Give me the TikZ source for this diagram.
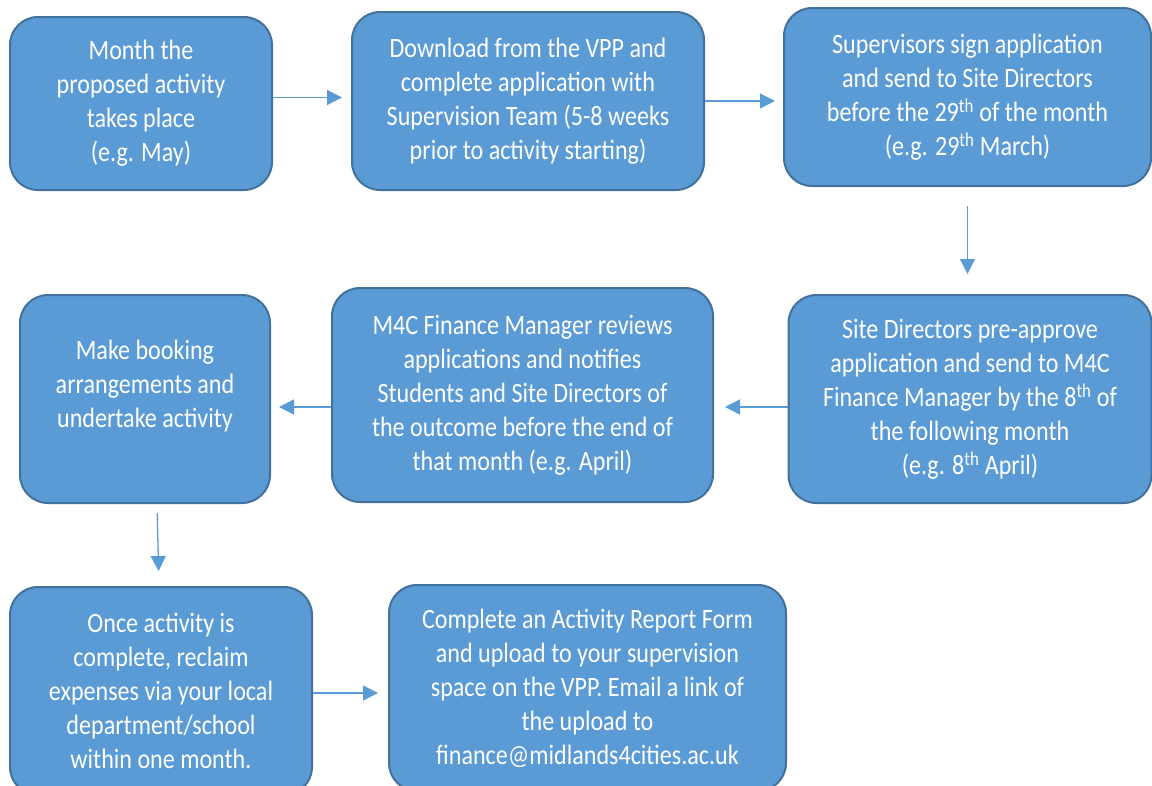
\documentclass[tikz,border=0pt]{standalone}
\usepackage{fontspec}
\setmainfont{Carlito}[FakeStretch=0.86]
\usepackage{xcolor}
\usepackage{tikz}
\usetikzlibrary{arrows.meta, positioning, calc}
\definecolor{boxblue}{HTML}{5B9BD5}
\definecolor{edgeblue}{HTML}{41719C}

\begin{document}
\begin{tikzpicture}[x=1pt, y=-1pt,
    stepbox/.style={draw=edgeblue, fill=boxblue, line width=2pt, rounded corners=28pt,
        text=white, align=center, inner sep=0pt, font=\fontsize{28}{34}\selectfont},
    flow/.style={draw=boxblue, line width=1.3pt, -{Triangle[length=15pt, width=15pt]}}]
    \useasboundingbox (0,0) rectangle (1152,785);
    % Top row
    \node[stepbox, minimum width=262pt, minimum height=173pt] (month) at (141,103.5)
        {Month the\\proposed activity\\takes place\\(e.g. May)};
    \node[stepbox, minimum width=352pt, minimum height=178pt] (download) at (528,101)
        {Download from the VPP and\\complete application with\\Supervision Team (5-8 weeks\\prior to activity starting)};
    \node[stepbox, minimum width=367pt, minimum height=178pt] (sign) at (967.5,97)
        {Supervisors sign application\\and send to Site Directors\\before the 29\textsuperscript{th} of the month\\(e.g. 29\textsuperscript{th} March)};
    % Middle row
    \node[stepbox, minimum width=363pt, minimum height=208pt] (approve) at (970,399)
        {Site Directors pre-approve\\application and send to M4C\\Finance Manager by the 8\textsuperscript{th} of\\the following month\\(e.g. 8\textsuperscript{th} April)};
    \node[stepbox, minimum width=381pt, minimum height=214pt] (review) at (522.5,395)
        {M4C Finance Manager reviews\\applications and notifies\\Students and Site Directors of\\the outcome before the end of\\that month (e.g. April)};
    \node[stepbox, minimum width=250pt, minimum height=208pt, text depth=31pt] (booking) at (145,399)
        {Make booking\\arrangements and\\undertake activity};
    % Bottom row
    \node[stepbox, minimum width=302pt, minimum height=208pt] (reclaim) at (161,691)
        {Once activity is\\complete, reclaim\\expenses via your local\\department/school\\within one month.};
    \node[stepbox, minimum width=397pt, minimum height=206pt] (report) at (587.5,688)
        {Complete an Activity Report Form\\and upload to your supervision\\space on the VPP. Email a link of\\the upload to\\finance@midlands4cities.ac.uk};
    % Arrows
    \draw[flow, shorten >=9pt] ($(month.east)+(0,-6)$) -- ($(month.east -| download.west)+(0,-6)$);
    \draw[flow, shorten >=8pt] (download.east) -- (download.east -| sign.west);
    \draw[flow, shorten <=19pt, shorten >=20pt] (sign.south) -- (sign.south |- approve.north);
    \draw[flow, shorten >=11pt] ($(approve.west)+(0,8)$) -- ($(approve.west -| review.east)+(0,8)$);
    \draw[flow, shorten >=8pt] ($(review.west)+(0,12)$) -- ($(review.west -| booking.east)+(0,12)$);
    \draw[flow, shorten <=9pt, shorten >=15pt] ($(booking.south)+(12,0)$) -- ($(reclaim.north)+(-2,0)$);
    \draw[flow, shorten >=10pt] ($(reclaim.east)+(0,2)$) -- ($(reclaim.east -| report.west)+(0,2)$);
\end{tikzpicture}
\end{document}
